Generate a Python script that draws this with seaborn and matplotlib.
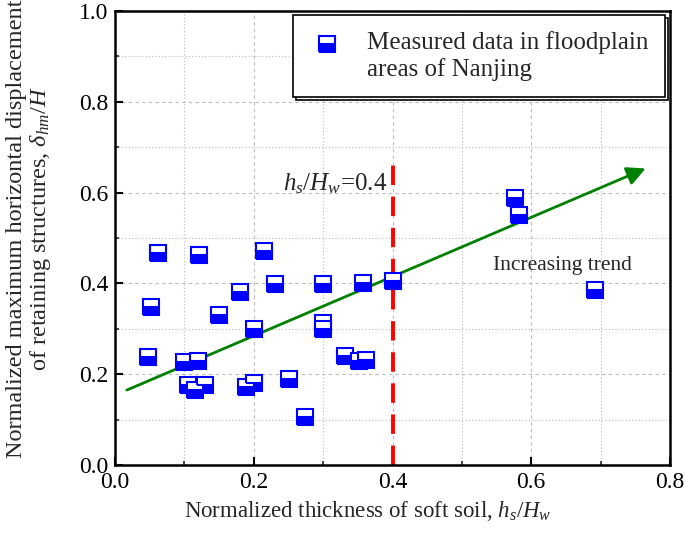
import numpy as np
import pandas as pd
import matplotlib
matplotlib.use("Agg")
import matplotlib.pyplot as plt
import seaborn as sns
from matplotlib.ticker import MultipleLocator, FormatStrFormatter

# measured points (hs/Hw, delta_hm/H)
hs_hw = [0.048, 0.052, 0.062, 0.100, 0.120, 0.121, 0.105, 0.115, 0.130, 0.150,
         0.180, 0.189, 0.201, 0.200, 0.215, 0.231, 0.251, 0.274, 0.300, 0.300,
         0.300, 0.331, 0.351, 0.362, 0.357, 0.401, 0.577, 0.582, 0.692]
disp = [0.238, 0.348, 0.466, 0.227, 0.230, 0.463, 0.176, 0.166, 0.176, 0.330,
        0.380, 0.172, 0.180, 0.300, 0.471, 0.399, 0.189, 0.106, 0.399, 0.312,
        0.300, 0.241, 0.230, 0.232, 0.400, 0.406, 0.587, 0.551, 0.385]

trend_start = (0.017, 0.165)
trend_end = (0.765, 0.653)
limit_x = 0.4
limit_top = 0.672

df = pd.DataFrame({"x": hs_hw, "y": disp})

sns.set_style("ticks")
plt.rcParams["font.family"] = ["Liberation Serif", "DejaVu Serif"]
plt.rcParams["mathtext.fontset"] = "custom"
plt.rcParams["mathtext.rm"] = "Liberation Serif"
plt.rcParams["mathtext.it"] = "Liberation Serif:italic"
plt.rcParams["mathtext.bf"] = "Liberation Serif:bold"

fig = plt.figure(figsize=(6.85, 5.33), dpi=100)
ax = fig.add_axes([0.168, 0.1276, 0.81, 0.852])

ax.set_xlim(0, 0.8)
ax.set_ylim(0, 1.0)
ax.xaxis.set_major_locator(MultipleLocator(0.2))
ax.xaxis.set_minor_locator(MultipleLocator(0.1))
ax.yaxis.set_major_locator(MultipleLocator(0.2))
ax.yaxis.set_minor_locator(MultipleLocator(0.1))
ax.grid(True, which="major", color="#bbbbbb", linestyle=(0, (3, 3)), linewidth=0.8)
ax.grid(True, which="minor", color="#bbbbbb", linestyle=(0, (1, 2)), linewidth=0.8)
ax.set_axisbelow(True)

# threshold line
ax.plot([limit_x, limit_x], [0, limit_top], color="red", linewidth=2.8,
        linestyle=(0, (5, 3)), zorder=2)

# trend arrow
ax.annotate("", xy=trend_end, xytext=trend_start,
            arrowprops=dict(arrowstyle="-|>", color="green", lw=2,
                            mutation_scale=28, shrinkA=0, shrinkB=0),
            zorder=3)

sns.lineplot(data=df, x="x", y="y", estimator=None, sort=False, errorbar=None,
             linestyle="", marker="s", markersize=12, fillstyle="bottom",
             markerfacecolor="blue", markerfacecoloralt="white",
             markeredgecolor="blue", markeredgewidth=1.5, color="blue",
             label="Measured data in floodplain\nareas of Nanjing", ax=ax, zorder=4)

ax.text(0.317, 0.62, r"$h_s/H_w$=0.4", fontsize=18, ha="center", va="center")
ax.text(0.545, 0.44, "Increasing trend", fontsize=15.5, ha="left", va="center")

leg = ax.legend(loc="upper right", bbox_to_anchor=(0.991, 0.991), fontsize=18,
                frameon=True, fancybox=False,
                shadow={"facecolor": "white", "edgecolor": "black",
                        "linewidth": 1.2, "alpha": 1},
                edgecolor="black", framealpha=1, handletextpad=0.92,
                borderpad=0.65, handlelength=1.4, labelspacing=0.2,
                borderaxespad=0)
leg.get_frame().set_linewidth(1.2)
# put the legend marker next to the first text line
hdl = leg.legend_handles[0]
hdl.set_ydata(np.asarray(hdl.get_ydata()) + 8.5)

ax.set_xlabel(r"Normalized thickness of soft soil, $h_s/H_w$", fontsize=16.5)
ax.xaxis.set_label_coords(0.455, -0.075)
ax.xaxis.label.set_va("top")
ax.set_ylabel("Normalized maximum horizontal displacement\n"
              r"of retaining structures, $\delta_{hm}/H$", fontsize=17.5,
              linespacing=1.05)
ax.yaxis.set_label_coords(-0.112, 0.52)

for sp in ax.spines.values():
    sp.set_linewidth(1.8)
    sp.set_color("black")
ax.tick_params(which="major", direction="in", length=6, width=1.5, labelsize=17,
               colors="black")
ax.tick_params(axis="x", which="major", pad=5)
ax.tick_params(axis="y", which="major", pad=5)
ax.tick_params(which="minor", direction="in", length=3, width=1.2)
ax.xaxis.set_major_formatter(FormatStrFormatter("%.1f"))
ax.yaxis.set_major_formatter(FormatStrFormatter("%.1f"))

fig.savefig("out.png", dpi=100)
plt.close(fig)
